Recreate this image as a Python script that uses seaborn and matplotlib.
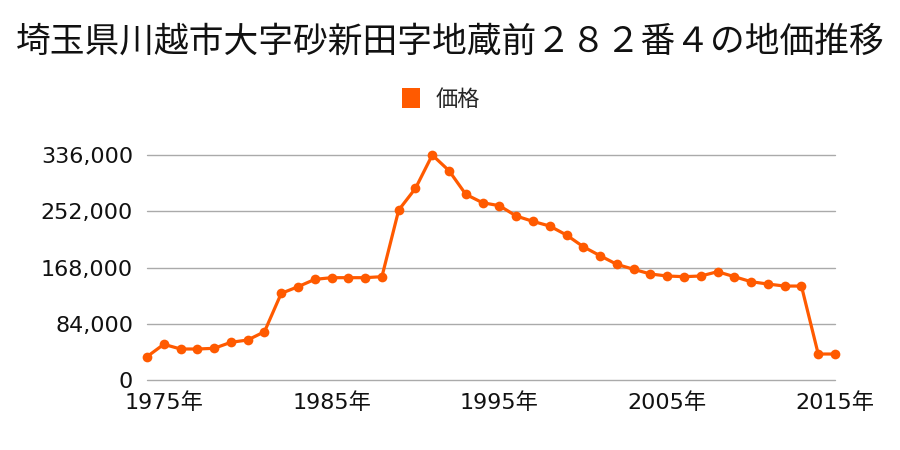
import matplotlib
matplotlib.use("Agg")
import matplotlib.pyplot as plt
import seaborn as sns
import pandas as pd
from matplotlib.ticker import FuncFormatter, FixedLocator
from matplotlib.patches import Patch

title = "埼玉県川越市大字砂新田字地蔵前２８２番４の地価推移"
series_name = "価格"
years = list(range(1974, 2016))
prices = [
    34800, 53300, 46300, 46300, 47300, 56300, 59700, 72100, 129400, 139300,
    150300, 152800, 152800, 152800, 154300, 253800, 286200, 336000, 312500, 277200,
    264700, 260300, 244900, 236900, 229900, 216500, 199000, 185600, 172700, 165300,
    158300, 155300, 154300, 155300, 161700, 154300, 146800, 143300, 140300, 140300,
    38800, 38800,
]
y_ticks = [0, 84000, 168000, 252000, 336000]
x_ticks = [1975, 1985, 1995, 2005, 2015]

sns.set_theme(style="white")
plt.rcParams['font.family'] = ['Noto Sans CJK JP', 'DejaVu Sans']

color = "#FF5A00"
df = pd.DataFrame({"year": years, "price": prices})

fig = plt.figure(figsize=(9, 4.5), dpi=100)
ax = fig.add_axes([147/900, 70/450, (835-147)/900, 225/450])

sns.lineplot(data=df, x="year", y="price", ax=ax, color=color, linewidth=2.3,
             marker="o", markersize=7, markeredgewidth=0, clip_on=False, zorder=3)

ax.set_xlim(1974, 2015)
ax.set_ylim(0, 336000)
ax.yaxis.set_major_locator(FixedLocator(y_ticks))
ax.xaxis.set_major_locator(FixedLocator(x_ticks))
ax.yaxis.set_major_formatter(FuncFormatter(lambda v, p: f"{int(v):,}"))
ax.xaxis.set_major_formatter(FuncFormatter(lambda v, p: f"{int(v)}年"))
ax.grid(axis="y", color="#aaaaaa", linewidth=1)
ax.grid(axis="x", visible=False)
for gl in ax.get_ygridlines():
    gl.set_clip_on(False)
for s in ax.spines.values():
    s.set_visible(False)
ax.tick_params(axis="both", length=0, labelsize=16, colors="#111111")
ax.tick_params(axis="y", pad=10)
ax.tick_params(axis="x", pad=9)
for lab in ax.get_xticklabels() + ax.get_yticklabels():
    lab.set_family(['DejaVu Sans', 'Noto Sans CJK JP'])
ax.set_xlabel("")
ax.set_ylabel("")

fig.suptitle(title, x=0.5, y=1 - 42/450, va="center", fontsize=25, color="#111111")

handles = [Patch(facecolor=color, edgecolor="none", label=series_name)]
fig.legend(handles=handles, loc="center", bbox_to_anchor=(0.49, 1 - 99/450), frameon=False,
           fontsize=16, handlelength=0.8, handleheight=1.0, handletextpad=0.7)

fig.savefig("out.png", dpi=100)
